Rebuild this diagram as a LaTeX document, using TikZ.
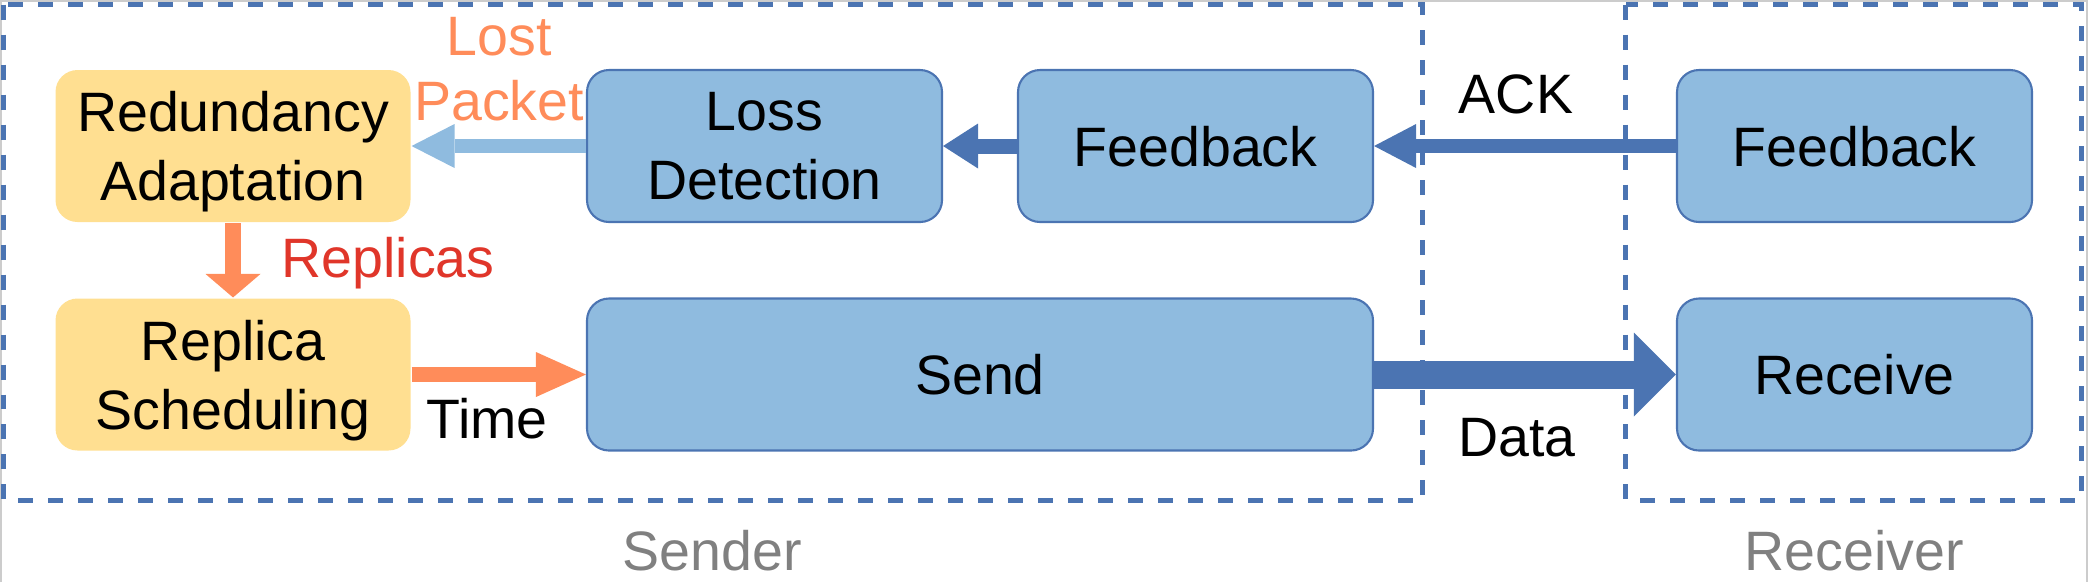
\documentclass[tikz,border=0pt]{standalone}
\usepackage{fontspec}
\setmainfont{Liberation Sans}
\usepackage{xcolor}
\usetikzlibrary{arrows.meta}
\usetikzlibrary{math}

\definecolor{boxblue}{RGB}{143,187,223}
\definecolor{lineblue}{RGB}{75,116,178}
\definecolor{boxyellow}{RGB}{255,223,145}
\definecolor{arroworange}{RGB}{255,140,90}
\definecolor{labelred}{RGB}{224,54,42}
\definecolor{labelgray}{RGB}{128,128,128}

\newcommand{\figfont}{\fontsize{15.8}{19.6}\selectfont}

\tikzset{
  block/.style={draw=lineblue, line width=0.6pt, fill=boxblue,
    rounded corners=0.22cm, minimum width=3.55cm, minimum height=1.52cm,
    inner sep=0pt, align=center, text depth=0pt},
  yblock/.style={block, draw=none, fill=boxyellow},
  region/.style={lineblue, line width=0.05cm, dash pattern=on 0.15cm off 0.15cm},
}

\begin{document}
\begin{tikzpicture}[line width=0.20mm, every node/.style={font=\figfont}]

  \tikzmath{
    \ytop = -1.46;  % upper row of boxes
    \ybot = -3.745; % lower row of boxes
  }

  \useasboundingbox (0,0) rectangle (20.88,-5.82);
  \draw[black!20, line width=0.02cm] (0.01,-5.82) |- (20.87,-0.01) -- (20.87,-5.82);

  % sender and receiver regions
  \draw[region] (0.035,-0.045) rectangle (14.225,-5.0);
  \draw[region] (16.255,-0.045) rectangle (20.81,-5.0);

  % boxes
  \node[yblock] (redund) at (2.33, \ytop) {Redundancy\\Adaptation};
  \node[yblock] (sched)  at (2.33, \ybot) {Replica\\Scheduling};
  \node[block]  (loss)   at (7.645, \ytop) {Loss\\Detection};
  \node[block]  (sfeed)  at (11.955, \ytop) {Feedback};
  \node[block, minimum width=7.86cm] (send) at (9.80, \ybot) {Send};
  \node[block]  (rfeed)  at (18.545, \ytop) {Feedback};
  \node[block]  (recv)   at (18.545, \ybot) {Receive};

  % arrows
  \draw[lineblue, line width=0.14cm, -{Triangle[length=0.42cm, width=0.44cm, line width=0pt]}] (rfeed) -- (sfeed);
  \draw[lineblue, line width=0.15cm, -{Triangle[length=0.35cm, width=0.45cm, line width=0pt]}] (sfeed) -- (loss);
  \draw[boxblue, line width=0.14cm, -{Triangle[length=0.43cm, width=0.44cm, line width=0pt]}] (loss) -- (redund);
  \draw[arroworange, line width=0.16cm, -{Triangle[length=0.235cm, width=0.55cm, line width=0pt]}] (redund) -- (sched);
  \draw[arroworange, line width=0.15cm, -{Triangle[length=0.50cm, width=0.45cm, line width=0pt]}] (sched) -- (send);
  \draw[lineblue, line width=0.28cm, -{Triangle[length=0.42cm, width=0.84cm, line width=0pt]}] (send) -- (recv);

  % labels
  \node[text=arroworange, anchor=base] (lost)   at (4.99,-0.557) {Lost};
  \node[text=arroworange, anchor=base] (packet) at (4.99,-1.206) {Packet};
  \node[text=labelred, anchor=base] (replicas) at (3.88,-2.777) {Replicas};
  \node[anchor=base] (time) at (4.87,-4.38) {Time};
  \node[anchor=base] (ack)  at (15.16,-1.13) {ACK};
  \node[anchor=base] (data) at (15.17,-4.56) {Data};
  \node[text=labelgray, anchor=base] (sender)   at (7.12,-5.70) {Sender};
  \node[text=labelgray, anchor=base] (receiver) at (18.54,-5.70) {Receiver};

\end{tikzpicture}
\end{document}
